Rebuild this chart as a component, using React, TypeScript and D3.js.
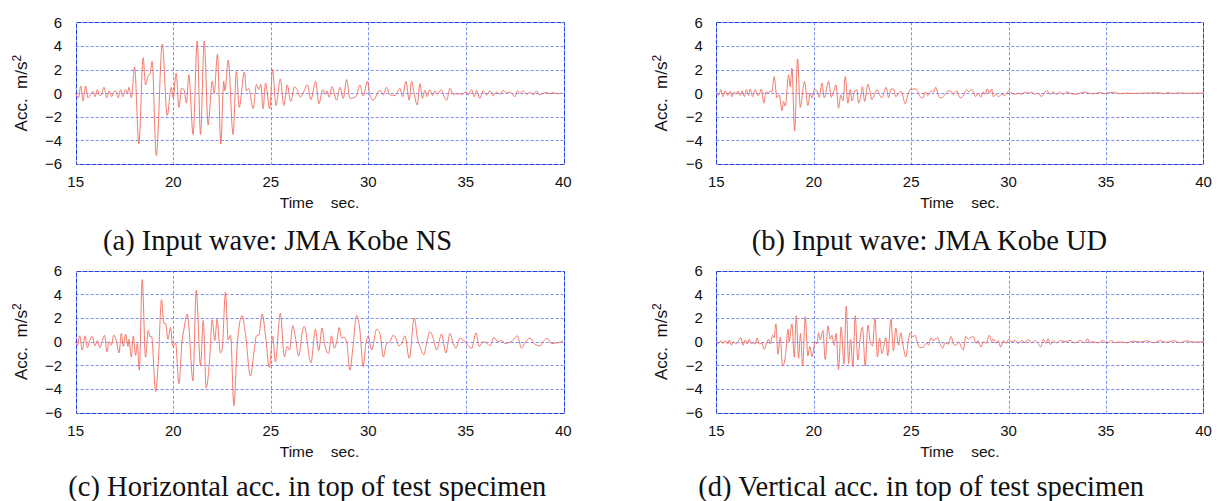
import React from 'react';
import * as d3 from 'd3';

// ---------- data ----------
const xTicks = [15, 20, 25, 30, 35, 40];
const yTicks = [6, 4, 2, 0, -2, -4, -6];
const xTitle = 'Time    sec.';
const yTitle = 'Acc.  m/s';
const captions = [
  '(a) Input wave: JMA Kobe NS',
  '(b) Input wave: JMA Kobe UD',
  '(c) Horizontal acc. in top of test specimen',
  '(d) Vertical acc. in top of test specimen',
];

// (a) Input wave JMA Kobe NS  [time s, acc m/s2]
const inputNS: [number, number][] = [
  [15.0, 0], [15.14, -0.4], [15.26, 0.6], [15.38, -0.65], [15.51, 0.6], [15.63, -0.4], [15.77, -0.1], [15.89, 0.15],
  [15.99, -0.3], [16.11, 0.3], [16.23, -0.2], [16.33, -0.1], [16.45, 0.5], [16.59, -0.4], [16.71, 0.2], [16.84, -0.3],
  [16.96, 0.1], [17.05, 0.2], [17.18, -0.4], [17.3, 0.3], [17.42, -0.3], [17.56, 0.3], [17.65, 0], [17.73, 0.5],
  [17.85, -0.4], [18.02, 2.2], [18.24, -4.3], [18.46, 3.0], [18.58, 0.7], [18.72, 1.5], [18.81, 1.6], [18.92, 2.7],
  [19.13, -5.3], [19.44, 4.15], [19.69, -1.9], [19.9, 0.5], [20.0, -0.4], [20.15, 1.7], [20.29, -1.2], [20.43, 0.4],
  [20.55, 0.3], [20.68, -0.85], [20.8, 1.55], [21.02, -3.5], [21.23, 4.4], [21.4, -3.5], [21.59, 4.4], [21.79, -2.7],
  [22.0, 1.0], [22.1, 0], [22.27, 3.3], [22.44, -4.3], [22.59, 1.0], [22.65, 0.2], [22.82, 2.8], [23.07, -3.5],
  [23.24, 1.85], [23.38, -1.2], [23.65, 1.8], [23.75, 0.2], [23.87, 0.4], [24.1, -1.3], [24.27, 0.75], [24.39, 0.3],
  [24.49, 0.75], [24.61, -1.33], [24.73, 0.85], [24.95, -1.33], [25.09, 2.0], [25.27, -1.05], [25.49, 1.2], [25.67, -1.05],
  [25.85, 0.7], [26.02, -0.7], [26.23, 0.55], [26.35, 0.3], [26.52, -0.35], [26.66, 0], [26.88, 0.7], [27.06, -0.55],
  [27.3, 1.0], [27.47, -0.9], [27.66, 0.3], [27.8, -0.1], [27.88, 0.2], [28.0, -0.35], [28.14, 0.55], [28.38, -0.6],
  [28.55, 0.5], [28.72, -0.45], [28.89, 1.15], [29.06, -0.45], [29.37, -0.3], [29.57, 0.7], [29.74, -0.25], [29.96, 1.0],
  [30.08, -0.15], [30.25, -0.6], [30.6, 0.25], [30.77, -0.15], [30.94, 0.5], [31.11, -0.15], [31.37, -0.2], [31.62, 0.4],
  [31.76, -0.3], [31.93, 1.0], [32.1, -0.6], [32.22, 1.0], [32.36, -0.1], [32.51, -1.0], [32.65, 0.8], [32.78, -0.45],
  [32.9, 0.25], [33.02, -0.3], [33.16, 0.3], [33.3, -0.2], [33.42, 0.2], [33.53, -0.1], [33.76, 0.3], [33.89, -0.3],
  [34.02, -0.6], [34.19, 0.4], [34.35, -0.1], [34.61, -0.05], [34.78, -0.1], [35.01, 0.1], [35.12, -0.15], [35.3, 0.3],
  [35.43, -0.3], [35.55, 0.25], [35.72, -0.45], [35.89, 0.2], [36.07, -0.15], [36.24, 0.2], [36.4, -0.25], [36.58, 0.1],
  [36.75, -0.1], [36.92, 0.25], [37.09, 0], [37.26, 0.1], [37.52, -0.3], [37.64, 0.2], [37.77, 0], [37.94, 0.2],
  [38.12, -0.1], [38.29, 0.1], [38.46, -0.15], [38.63, 0.2], [38.76, -0.15], [38.97, 0], [39.14, 0.05], [39.31, -0.05],
  [39.48, 0.05], [39.65, -0.05], [39.91, 0],
];

// (b) Input wave JMA Kobe UD
const inputUD: [number, number][] = [
  [15.0, 0], [15.12, -0.2], [15.24, 0.3], [15.34, -0.3], [15.46, 0.2], [15.58, -0.2], [15.72, 0.15], [15.8, -0.3],
  [15.92, 0.1], [16.01, -0.1], [16.11, 0.2], [16.23, -0.2], [16.32, 0.2], [16.44, -0.3], [16.54, 0.3], [16.66, -0.2],
  [16.74, 0.35], [16.86, -0.3], [17.0, 0.3], [17.12, -0.2], [17.21, -0.1], [17.31, 0.35], [17.44, -0.85], [17.55, 0.1],
  [17.68, 0], [17.77, 0.2], [17.85, 0.1], [17.97, 1.4], [18.11, -0.4], [18.23, -0.15], [18.37, -1.5], [18.45, -0.7],
  [18.54, -1.1], [18.71, 1.55], [18.79, 0.55], [18.88, 2.1], [19.02, -3.2], [19.17, 2.9], [19.31, -1.2], [19.39, -0.4],
  [19.53, 1.0], [19.7, -1.05], [19.82, 0], [19.91, -0.4], [20.04, 0.3], [20.16, 0.2], [20.28, -0.35], [20.42, 0.85],
  [20.54, -0.4], [20.76, 1.0], [20.9, -0.35], [21.02, 0.1], [21.14, 0.7], [21.27, -1.27], [21.39, -0.15], [21.5, -0.65],
  [21.62, 1.4], [21.75, -0.85], [21.87, 0.3], [21.96, -0.65], [22.09, 0.1], [22.21, 0.3], [22.3, -0.85], [22.42, -0.15],
  [22.5, 0.55], [22.61, -0.7], [22.78, 0.75], [22.9, 0], [22.98, -0.55], [23.12, -0.1], [23.24, 0.3], [23.38, -0.15],
  [23.5, -0.4], [23.62, 0.15], [23.72, 0.5], [23.84, -0.4], [23.97, 0.35], [24.09, 0.35], [24.21, -0.3], [24.35, 0],
  [24.49, 0.15], [24.56, -0.15], [24.69, -0.9], [24.83, -0.15], [24.95, 0.3], [25.12, 0.35], [25.24, 0.35], [25.34, 0.15],
  [25.46, -0.3], [25.6, -0.4], [25.72, 0.1], [25.85, -0.2], [26.03, 0.2], [26.15, 0.1], [26.26, 0.5], [26.44, -0.35],
  [26.57, -0.4], [26.74, -0.1], [26.91, 0.2], [27.05, 0.15], [27.17, -0.1], [27.34, 0.2], [27.51, -0.4], [27.68, -0.2],
  [27.85, 0.3], [27.97, 0.1], [28.08, 0.3], [28.19, 0.15], [28.31, -0.3], [28.44, 0], [28.57, -0.35], [28.7, 0.1],
  [28.79, -0.1], [28.9, 0.35], [29.01, 0], [29.13, 0.35], [29.21, -0.3], [29.35, -0.1], [29.47, -0.3], [29.64, -0.1],
  [29.81, -0.2], [30.0, 0.2], [30.16, 0], [30.33, -0.1], [30.5, 0], [30.67, -0.1], [30.84, 0.1], [31.01, 0],
  [31.18, 0.1], [31.35, -0.1], [31.52, 0], [31.69, -0.3], [31.86, 0.1], [31.98, 0.2], [32.12, -0.1], [32.29, 0.1],
  [32.47, -0.1], [32.64, 0.1], [32.8, -0.1], [32.98, 0.1], [33.15, 0], [33.4, -0.1], [33.66, 0], [33.92, 0.1],
  [34.09, 0], [34.34, -0.05], [34.69, 0.05], [34.94, -0.05], [35.11, 0.03], [35.37, 0.08], [35.71, -0.05], [36.06, 0],
  [36.4, -0.03], [36.91, 0], [37.77, 0.03], [37.93, -0.05], [38.19, 0.05], [38.44, -0.03], [38.79, 0.03], [39.13, -0.02],
  [39.47, 0], [39.99, 0],
];

// (c) Horizontal acceleration at top of test specimen
const topHorizontal: [number, number][] = [
  [15.0, 0], [15.09, -0.3], [15.2, 0.5], [15.34, -0.7], [15.48, 0.5], [15.6, -0.5], [15.72, 0.1], [15.85, 0.45],
  [15.99, -0.35], [16.11, 0.1], [16.23, -0.5], [16.37, 0.1], [16.48, 0.55], [16.6, -0.85], [16.71, 0], [16.83, -0.3],
  [16.95, 0.55], [17.08, 0.1], [17.22, -0.95], [17.34, 0.7], [17.44, -0.4], [17.56, 0.65], [17.68, -0.4], [17.73, 0.2],
  [17.85, -1.3], [17.95, 0.5], [18.07, -1.15], [18.16, -0.15], [18.26, -2.4], [18.41, 5.25], [18.58, -1.3], [18.72, 0.95],
  [18.81, 0.4], [18.89, 0.45], [19.1, -4.2], [19.23, -1.85], [19.4, 3.55], [19.52, 1.55], [19.61, 1.55], [19.73, 0.2],
  [19.86, 1.2], [19.98, -0.4], [20.12, -0.1], [20.29, -3.55], [20.46, 0.15], [20.55, 1.05], [20.72, 2.35], [20.8, 1.3],
  [21.01, -3.3], [21.18, 4.35], [21.4, -2.05], [21.54, 1.8], [21.69, -3.9], [21.86, -1.7], [22.0, 1.85], [22.13, 0.1],
  [22.25, 1.9], [22.42, -0.95], [22.51, -0.6], [22.68, 4.2], [22.82, 0.15], [22.94, 0.55], [23.11, -5.4], [23.28, -0.3],
  [23.53, 2.2], [23.7, 0.7], [23.96, -2.9], [24.13, -1.0], [24.27, 0.5], [24.39, 0.55], [24.56, 2.35], [24.73, 0.55],
  [24.93, -2.2], [25.1, 0.45], [25.24, -1.7], [25.49, 2.4], [25.7, -1.3], [25.84, -0.4], [25.96, -0.7], [26.13, 1.35],
  [26.26, 0.4], [26.43, -1.2], [26.64, 1.0], [26.72, 1.3], [27.06, -1.8], [27.29, 1.05], [27.46, -0.75], [27.63, 1.15],
  [27.76, -0.2], [27.97, -1.0], [28.11, 0.5], [28.26, -0.55], [28.38, 0], [28.51, 1.2], [28.63, 0.3], [28.75, 0.4],
  [28.89, 0], [29.06, -2.4], [29.2, -0.7], [29.4, 2.2], [29.57, 1.0], [29.74, -2.1], [29.86, -0.4], [30.0, 0.5],
  [30.17, -0.7], [30.43, 1.05], [30.6, 0.7], [30.77, -1.3], [30.94, -0.15], [31.11, 0], [31.28, 0.55], [31.42, 0.3],
  [31.57, -0.35], [31.71, -0.15], [31.88, 0.5], [32.1, -1.4], [32.36, 2.0], [32.53, 0.2], [32.65, -0.4], [32.85, -1.1],
  [32.99, -0.15], [33.16, 0.85], [33.33, 0.3], [33.5, -0.7], [33.76, 0.65], [33.98, -0.95], [34.19, 0.7], [34.36, -0.15],
  [34.49, -0.55], [34.7, 0.3], [34.87, 0.15], [35.04, -0.2], [35.3, -0.55], [35.52, 0.75], [35.69, -0.4], [35.89, 0],
  [36.07, -0.1], [36.24, -0.35], [36.44, 0.35], [36.66, 0], [36.84, 0.1], [37.0, -0.15], [37.17, -0.1], [37.4, 0.1],
  [37.64, 0.5], [37.86, -0.55], [38.03, -0.1], [38.29, 0.3], [38.54, -0.2], [38.8, -0.35], [38.97, 0], [39.17, 0.3],
  [39.4, -0.15], [39.65, -0.1], [39.91, 0], [39.99, 0.1],
];

// (d) Vertical acceleration at top of test specimen
const topVertical: [number, number][] = [
  [15.0, 0], [15.12, -0.15], [15.24, 0.1], [15.34, -0.15], [15.46, 0.1], [15.58, -0.2], [15.67, 0.15], [15.77, -0.3],
  [15.89, 0], [16.01, -0.2], [16.15, 0.1], [16.26, 0.35], [16.37, -0.3], [16.49, 0.15], [16.57, -0.2], [16.69, 0.2],
  [16.79, -0.15], [16.91, -0.1], [17.0, -0.2], [17.09, 0.3], [17.21, -0.2], [17.34, -0.1], [17.46, -0.65], [17.56, -0.2],
  [17.68, 0.2], [17.77, -0.2], [17.89, 0.55], [17.97, 0.35], [18.06, 1.5], [18.16, -1.05], [18.28, 0.35], [18.4, -2.05],
  [18.54, -1.3], [18.68, 1.05], [18.74, 0], [18.88, 1.5], [19.0, -1.3], [19.1, 2.2], [19.22, -1.4], [19.32, 0.7],
  [19.43, -2.05], [19.56, 2.1], [19.7, -1.2], [19.8, -0.4], [19.91, -1.27], [20.08, 0], [20.16, -0.2], [20.25, 0.75],
  [20.33, 0.15], [20.47, 0.95], [20.59, -1.5], [20.73, 1.35], [20.85, 0.2], [20.93, 0.55], [21.05, -0.3], [21.15, 0.7],
  [21.27, -2.35], [21.41, 1.25], [21.55, -1.9], [21.67, 3.0], [21.79, -1.85], [21.89, 0.2], [22.01, -2.1], [22.13, 2.2],
  [22.26, -1.55], [22.38, 0.3], [22.5, 1.25], [22.64, -2.05], [22.78, 1.4], [22.9, 0], [23.02, -0.35], [23.14, 2.0],
  [23.27, -1.3], [23.38, 0.3], [23.5, -1.0], [23.62, -0.2], [23.7, 0.35], [23.8, -1.2], [23.96, 1.9], [24.09, -0.75],
  [24.21, 1.15], [24.35, -0.3], [24.47, 0.75], [24.57, -0.2], [24.73, -1.3], [24.86, 0.2], [24.95, 0.75], [25.09, 0.4],
  [25.21, 0.55], [25.33, -0.15], [25.46, -0.5], [25.63, -0.45], [25.8, -0.1], [25.89, -0.3], [26.01, 0.35], [26.11, 0.1],
  [26.23, 0.2], [26.35, 0.35], [26.49, -0.2], [26.61, -0.55], [26.74, -0.1], [26.91, -0.2], [27.05, 0.45], [27.17, -0.2],
  [27.31, -0.3], [27.43, 0], [27.56, -0.4], [27.68, -0.7], [27.8, 0.45], [27.94, 0.2], [28.08, 0.4], [28.19, 0.4],
  [28.33, -0.15], [28.44, 0.1], [28.58, -0.45], [28.72, 0], [28.84, -0.15], [29.01, 0.55], [29.13, 0], [29.21, 0.25],
  [29.35, -0.15], [29.47, 0.1], [29.59, -0.45], [29.73, 0.1], [29.86, -0.15], [30.0, 0.2], [30.16, 0], [30.33, 0.1],
  [30.5, -0.15], [30.67, 0.1], [30.84, -0.1], [31.01, 0.2], [31.18, -0.1], [31.35, 0.1], [31.52, -0.15], [31.64, -0.45],
  [31.78, 0.2], [31.92, -0.15], [32.03, 0.25], [32.15, -0.25], [32.29, 0.1], [32.47, -0.1], [32.64, 0.1], [32.89, 0],
  [33.15, 0.1], [33.4, -0.1], [33.66, 0.1], [33.92, -0.1], [34.04, 0.25], [34.17, -0.1], [34.34, 0], [34.6, -0.1],
  [34.86, 0.1], [35.03, -0.15], [35.28, 0.1], [35.45, -0.1], [35.71, 0], [36.06, -0.1], [36.4, 0.05], [36.74, -0.03],
  [37.09, 0.08], [37.43, -0.08], [37.77, 0.08], [38.11, -0.05], [38.46, 0.08], [38.8, -0.08], [39.13, 0.08], [39.47, -0.03],
  [39.99, 0],
];

const seriesList = [inputNS, inputUD, topHorizontal, topVertical];

// ---------- layout ----------
const W = 1218;
const H = 501;
const panels = [
  { left: 75.7, right: 563.3, top: 22.3, bottom: 164, capX: 103, capY: 250 },
  { left: 716.3, right: 1203.5, top: 22.3, bottom: 164, capX: 751.7, capY: 250 },
  { left: 75.7, right: 563.3, top: 270.7, bottom: 412.7, capX: 68.3, capY: 496 },
  { left: 716.3, right: 1203.5, top: 270.7, bottom: 412.7, capX: 698.3, capY: 496 },
];

const sansFont = "'Liberation Sans', Arial, sans-serif";
const serifFont = "'Liberation Serif', 'Times New Roman', serif";
const gridColor = '#7d8ff2';
const frameColor = '#2244e6';
const lineColor = '#f26b5b';

function Panel({ p, data, caption }: { p: typeof panels[number]; data: [number, number][]; caption: string }) {
  const x = d3.scaleLinear().domain([15, 40]).range([p.left, p.right]);
  const y = d3.scaleLinear().domain([-6, 6]).range([p.bottom, p.top]);
  const line = d3
    .line<[number, number]>()
    .x((d) => x(d[0]))
    .y((d) => y(d[1]))
    .curve(d3.curveMonotoneX);
  const snap = (v: number) => Math.round(v) + 0.5;
  const cx = (p.left + p.right) / 2;
  const cy = (p.top + p.bottom) / 2;
  return (
    <g>
      {xTicks.slice(1, -1).map((t) => (
        <line key={'gx' + t} x1={snap(x(t))} x2={snap(x(t))} y1={p.top} y2={p.bottom}
          stroke={gridColor} strokeWidth={1} strokeDasharray="3,2" />
      ))}
      {yTicks.slice(1, -1).map((t) => (
        <line key={'gy' + t} x1={p.left} x2={p.right} y1={snap(y(t))} y2={snap(y(t))}
          stroke={gridColor} strokeWidth={1} strokeDasharray="3,2" />
      ))}
      <rect x={snap(p.left)} y={snap(p.top)} width={Math.round(p.right - p.left)} height={Math.round(p.bottom - p.top)}
        fill="none" stroke={frameColor} strokeWidth={1} strokeDasharray="5,1" />
      <path d={line(data) || ''} fill="none" stroke={lineColor} strokeWidth={0.9} strokeLinejoin="round" />
      {yTicks.map((t) => (
        <text key={'ly' + t} x={p.left - 13.5} y={y(t)} dy="0.36em" textAnchor="end"
          fontFamily={sansFont} fontSize={15} fill="#111">
          {t < 0 ? '\u2212' + Math.abs(t) : String(t)}
        </text>
      ))}
      {xTicks.map((t) => (
        <text key={'lx' + t} x={x(t)} y={p.bottom + 23} textAnchor="middle"
          fontFamily={sansFont} fontSize={15} fill="#111">
          {t}
        </text>
      ))}
      <text x={cx} y={p.bottom + 44.3} textAnchor="middle" fontFamily={sansFont} fontSize={15.5}
        fill="#111" style={{ whiteSpace: 'pre' }}>
        {xTitle}
      </text>
      <text transform={`translate(${p.left - 49},${cy}) rotate(-90)`} textAnchor="middle"
        fontFamily={sansFont} fontSize={17} fill="#111" style={{ whiteSpace: 'pre' }}>
        {yTitle}
        <tspan dy="-0.5em" fontSize={12}>2</tspan>
      </text>
      <text x={p.capX} y={p.capY} fontFamily={serifFont} fontSize={28.5} fill="#111">
        {caption}
      </text>
    </g>
  );
}

export default function App() {
  return (
    <svg width={W} height={H} viewBox={`0 0 ${W} ${H}`}
      style={{ position: 'absolute', left: 0, top: 0, background: '#fff' }}>
      <rect x={0} y={0} width={W} height={H} fill="#fff" />
      {panels.map((p, i) => (
        <Panel key={i} p={p} data={seriesList[i]} caption={captions[i]} />
      ))}
    </svg>
  );
}
